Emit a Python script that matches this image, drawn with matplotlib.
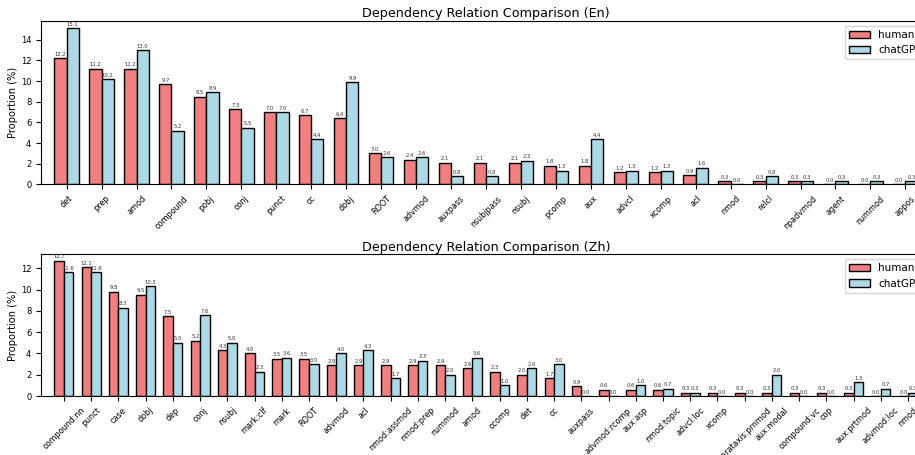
import numpy as np
import matplotlib
matplotlib.use("Agg")
import matplotlib.pyplot as plt

# English dependency relations
en_labels = ["det", "prep", "amod", "compound", "pobj", "conj", "punct", "cc",
             "dobj", "ROOT", "advmod", "auxpass", "nsubjpass", "nsubj", "pcomp",
             "aux", "advcl", "xcomp", "acl", "nmod", "relcl", "npadvmod", "agent",
             "nummod", "appos"]
en_human = [12.2, 11.2, 11.2, 9.7, 8.5, 7.3, 7.0, 6.7, 6.4, 3.0, 2.4, 2.1, 2.1,
            2.1, 1.8, 1.8, 1.2, 1.2, 0.9, 0.3, 0.3, 0.3, 0.0, 0.0, 0.0]
en_chatgpt = [15.1, 10.2, 13.0, 5.2, 8.9, 5.5, 7.0, 4.4, 9.9, 2.6, 2.6, 0.8, 0.8,
              2.3, 1.3, 4.4, 1.3, 1.3, 1.6, 0.0, 0.8, 0.3, 0.3, 0.3, 0.3]

# Chinese dependency relations
zh_labels = ["compound:nn", "punct", "case", "dobj", "dep", "conj", "nsubj",
             "mark:clf", "mark", "ROOT", "advmod", "acl", "nmod:assmod",
             "nmod:prep", "nummod", "amod", "ccomp", "det", "cc", "auxpass",
             "advmod:rcomp", "aux:asp", "nmod:topic", "advcl:loc", "xcomp",
             "parataxis:prnmod", "aux:modal", "compound:vc", "cop", "aux:prtmod",
             "advmod:loc", "nmod"]
zh_human = [12.7, 12.1, 9.8, 9.5, 7.5, 5.2, 4.3, 4.0, 3.5, 3.5, 2.9, 2.9, 2.9,
            2.9, 2.9, 2.6, 2.3, 2.0, 1.7, 0.9, 0.6, 0.6, 0.6, 0.3, 0.3, 0.3, 0.3,
            0.3, 0.3, 0.3, 0.0, 0.0]
zh_chatgpt = [11.6, 11.6, 8.3, 10.3, 5.0, 7.6, 5.0, 2.3, 3.6, 3.0, 4.0, 4.3, 1.7,
              3.3, 2.0, 3.6, 1.0, 2.6, 3.0, 0.0, 0.0, 1.0, 0.7, 0.3, 0.0, 0.0,
              2.0, 0.0, 0.0, 1.3, 0.7, 0.3]

series_names = ["human", "chatGPT"]
colors = ["lightcoral", "lightblue"]
width = 0.35

fig = plt.figure(figsize=(9.15, 4.55), dpi=100)
ax_en = fig.add_axes([41 / 915, 1 - 184.3 / 455, 890 / 915, 163.6 / 455])
ax_zh = fig.add_axes([41 / 915, 1 - 396 / 455, 890 / 915, 142 / 455])


def draw(ax, labels, human, chatgpt, title, title_pad):
    x = np.arange(len(labels))
    b1 = ax.bar(x - width / 2, human, width, color=colors[0],
                edgecolor="black", linewidth=1, label=series_names[0])
    b2 = ax.bar(x + width / 2, chatgpt, width, color=colors[1],
                edgecolor="black", linewidth=1, label=series_names[1])
    for bars in (b1, b2):
        for rect in bars:
            h = rect.get_height()
            ax.annotate(f"{h:.1f}", xy=(rect.get_x() + rect.get_width() / 2, h),
                        xytext=(0, 1), textcoords="offset points",
                        ha="center", va="bottom", fontsize=3.8, color="#333333")
    ax.set_xticks(x)
    ax.set_xticklabels(labels, rotation=45, fontsize=5.8)
    ax.tick_params(axis="y", labelsize=6)
    ax.set_ylabel("Proportion (%)", fontsize=7.1, labelpad=2)
    ax.set_title(title, fontsize=9.2, pad=title_pad)
    ax.margins(x=0.0155)
    ax.legend(loc="upper right", fontsize=7.5)


draw(ax_en, en_labels, en_human, en_chatgpt,
     "Dependency Relation Comparison (En)", 3)
draw(ax_zh, zh_labels, zh_human, zh_chatgpt,
     "Dependency Relation Comparison (Zh)", 2)

fig.savefig("out.png", dpi=100)
